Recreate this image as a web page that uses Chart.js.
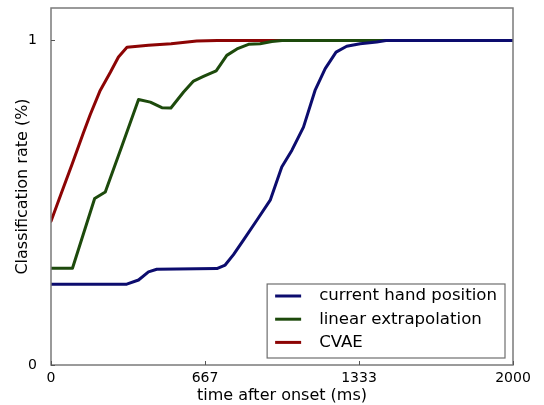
<!DOCTYPE html>
<html>
<head>
<meta charset="utf-8">
<script src="https://cdn.jsdelivr.net/npm/chart.js@4/dist/chart.umd.min.js"></script>
<style>
  html, body { margin: 0; padding: 0; background: #fff; }
  canvas { display: block; }
</style>
</head>
<body>
<canvas id="rateChart" width="544" height="405"></canvas>
<script>
// values (time in ms, rate as fraction)
const handTime = [0, 328, 379, 422, 458, 718, 754, 790, 833, 891, 949, 999, 1043, 1093, 1143, 1187, 1234, 1280, 1338, 1410, 1450, 2000];
const handRate = [0.249, 0.249, 0.262, 0.287, 0.295, 0.297, 0.308, 0.34, 0.385, 0.446, 0.508, 0.61, 0.662, 0.733, 0.846, 0.913, 0.964, 0.982, 0.99, 0.995, 1.0, 1.0];

const linTime = [0, 93, 189, 235, 307, 379, 430, 480, 519, 574, 617, 660, 715, 761, 805, 855, 905, 956, 1000, 2000];
const linRate = [0.298, 0.298, 0.513, 0.533, 0.675, 0.818, 0.81, 0.793, 0.792, 0.841, 0.875, 0.889, 0.906, 0.954, 0.974, 0.988, 0.99, 0.997, 1.0, 1.0];

const cvaeTime = [0, 45, 92, 140, 170, 213, 257, 292, 329, 422, 520, 631, 720, 2000];
const cvaeRate = [0.443, 0.53, 0.62, 0.715, 0.772, 0.846, 0.902, 0.949, 0.979, 0.985, 0.99, 0.998, 1.0, 1.0];

const seriesLabels = ["current hand position", "linear extrapolation", "CVAE"];
const seriesColors = ["#0c0c6e", "#1d4a0c", "#8c0404"];

const xTicks = [0, 666.67, 1333.33, 2000];
const xTickLabels = ["0", "667", "1333", "2000"];
const yTicks = [0, 1];
const yTickLabels = ["0", "1"];

Chart.defaults.font.family = "'DejaVu Sans', sans-serif";
Chart.defaults.color = "#000";

function toPoints(ts, vs) {
  return ts.map((t, i) => ({ x: t, y: vs[i] }));
}

const frameAndLegend = {
  id: "frameAndLegend",
  afterDatasetsDraw(chart) {
    const ctx = chart.ctx;
    const a = chart.chartArea;
    const xs = chart.scales.x, ys = chart.scales.y;
    ctx.save();

    // frame
    ctx.strokeStyle = "#7a7a7a";
    ctx.lineWidth = 1.5;
    ctx.strokeRect(a.left, a.top, a.right - a.left, a.bottom - a.top);

    // inward ticks
    ctx.strokeStyle = "#555";
    ctx.lineWidth = 1;
    xTicks.forEach(v => {
      const px = Math.round(xs.getPixelForValue(v)) + 0.5;
      ctx.beginPath();
      ctx.moveTo(px, a.bottom);
      ctx.lineTo(px, a.bottom - 4);
      ctx.stroke();
    });
    yTicks.forEach(v => {
      const py = Math.round(ys.getPixelForValue(v)) + 0.5;
      ctx.beginPath();
      ctx.moveTo(a.left, py);
      ctx.lineTo(a.left + 4, py);
      ctx.stroke();
    });

    // legend box
    ctx.font = "16.6px 'DejaVu Sans'";
    const widths = chart.data.datasets.map(d => ctx.measureText(d.label).width);
    const textW = Math.max(...widths);
    const boxW = 8 + 26 + 18 + textW + 8;
    const boxH = 74;
    const right = a.right - 8;
    const bottom = a.bottom - 7;
    const left = right - boxW;
    const top = bottom - boxH;
    ctx.fillStyle = "#fff";
    ctx.fillRect(left, top, boxW, boxH);
    ctx.strokeStyle = "#6e6e6e";
    ctx.lineWidth = 1.2;
    ctx.strokeRect(left, top, boxW, boxH);

    chart.data.datasets.forEach((d, i) => {
      const cy = top + 12 + i * 23.2;
      ctx.strokeStyle = d.borderColor;
      ctx.lineWidth = 3;
      ctx.beginPath();
      ctx.moveTo(left + 8, cy);
      ctx.lineTo(left + 34, cy);
      ctx.stroke();
      ctx.fillStyle = "#000";
      ctx.textBaseline = "middle";
      ctx.textAlign = "left";
      ctx.fillText(d.label, left + 52, cy);
    });
    ctx.restore();
  }
};

new Chart(document.getElementById("rateChart"), {
  type: "line",
  data: {
    datasets: [
      { label: seriesLabels[0], data: toPoints(handTime, handRate) },
      { label: seriesLabels[1], data: toPoints(linTime, linRate) },
      { label: seriesLabels[2], data: toPoints(cvaeTime, cvaeRate) }
    ].map((d, i) => ({
      ...d,
      borderColor: seriesColors[i],
      backgroundColor: seriesColors[i],
      borderWidth: 3,
      pointRadius: 0,
      tension: 0,
      fill: false,
      borderJoinStyle: "round",
      borderCapStyle: "round"
    }))
  },
  options: {
    responsive: false,
    animation: false,
    devicePixelRatio: 1,
    layout: { padding: { left: 0, right: 31, top: 8, bottom: 0 } },
    plugins: {
      legend: { display: false },
      tooltip: { enabled: false }
    },
    scales: {
      x: {
        type: "linear",
        min: 0,
        max: 2000,
        grid: { display: false },
        border: { display: false },
        afterBuildTicks: s => { s.ticks = xTicks.map(v => ({ value: v })); },
        afterFit: s => { s.height = 40; s.paddingLeft = 0; s.paddingRight = 0; },
        ticks: {
          font: { size: 14 },
          padding: -3,
          maxRotation: 0,
          autoSkip: false,
          callback: (v, i) => xTickLabels[i]
        },
        title: {
          display: true,
          text: "time after onset (ms)",
          font: { size: 16 },
          padding: { top: 0, bottom: 0 }
        }
      },
      y: {
        min: 0,
        max: 1.1,
        grid: { display: false },
        border: { display: false },
        afterBuildTicks: s => { s.ticks = yTicks.map(v => ({ value: v })); },
        afterFit: s => { s.width = 51; s.paddingTop = 0; s.paddingBottom = 0; },
        ticks: {
          font: { size: 14 },
          padding: 6,
          autoSkip: false,
          callback: (v, i) => yTickLabels[i]
        },
        title: {
          display: true,
          text: "Classification rate (%)",
          font: { size: 16 },
          padding: { top: 13, bottom: 0 }
        }
      }
    }
  },
  plugins: [frameAndLegend]
});
</script>
</body>
</html>
